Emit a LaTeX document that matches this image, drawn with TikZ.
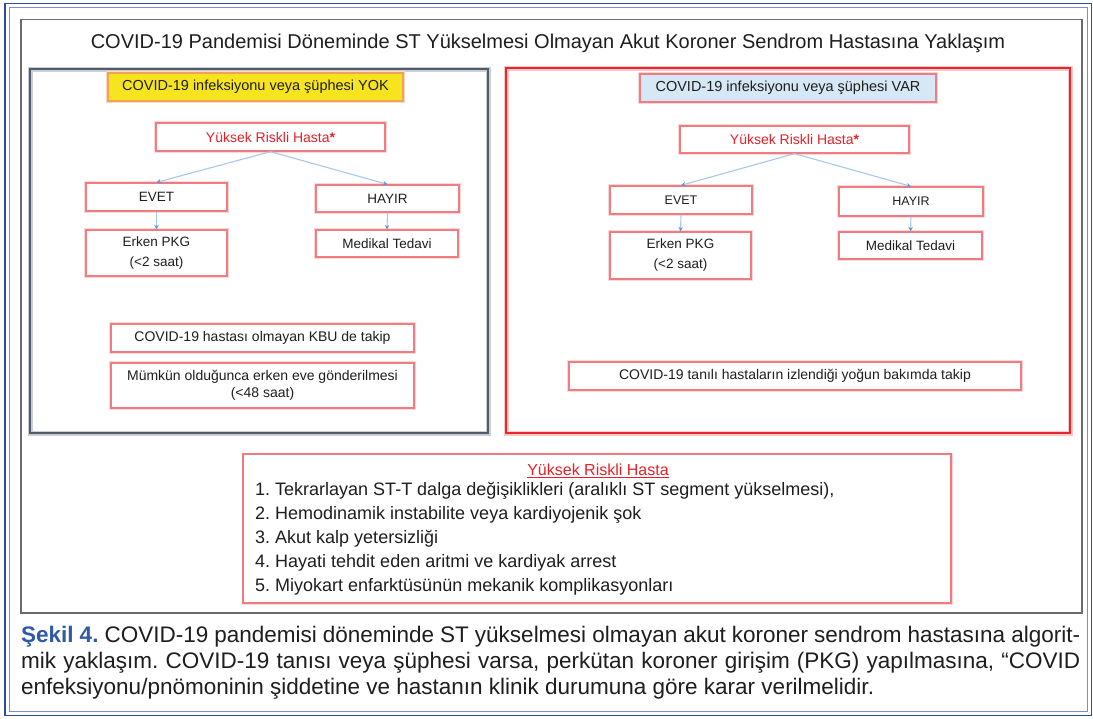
\documentclass[tikz,border=0pt]{standalone}
\usepackage{fontspec}
\setmainfont{Liberation Sans}
\usetikzlibrary{arrows.meta}
\frenchspacing
\definecolor{frameblue}{HTML}{2F4C9C}
\definecolor{frameblue2}{HTML}{7A90C6}
\definecolor{framegray}{HTML}{6B6B6B}
\definecolor{slate}{HTML}{505C6C}
\definecolor{bigred}{HTML}{E8262C}
\definecolor{boxred}{HTML}{F07C82}
\definecolor{txt}{HTML}{1E1E1E}
\definecolor{redtxt}{HTML}{E8202A}
\definecolor{yel}{HTML}{F6E51E}
\definecolor{yelborder}{HTML}{F2A05C}
\definecolor{lblue}{HTML}{D6E7F5}
\definecolor{arrowline}{HTML}{A8C8EA}
\definecolor{arrowhead}{HTML}{5B9BD5}
\definecolor{capblue}{HTML}{2E5AA8}
\begin{document}
\frenchspacing
\begin{tikzpicture}[x=1pt,y=-1pt,
  sbox/.style={draw=boxred, line width=1.3pt, preaction={draw=boxred!30, line width=3.4pt},
    fill=white, inner sep=0pt, align=center, text=txt, font=\fontsize{13.5}{16}\selectfont},
  hdbox/.style={sbox, font=\fontsize{14.5}{17}\selectfont},
  conn/.style={draw=arrowline, line width=1.1pt, -{Stealth[length=4.5pt,width=4.5pt,color=arrowhead]}},
  listline/.style={anchor=west, inner sep=0pt, text=txt, font=\fontsize{18}{21}\selectfont},
  capline/.style={anchor=base west, inner sep=0pt, text=txt, font=\fontsize{22.5}{26}\selectfont}
]
\useasboundingbox (0,0) rectangle (1093,718);
\fill[white] (0,0) rectangle (1093,718);
% outer blue double frame
\draw[frameblue, line width=1.8pt] (5,3.5) rectangle (1091.5,715.5);
\draw[frameblue2, line width=0.9pt] (9,7.5) rectangle (1087.5,711.5);
% gray frame
\draw[framegray, line width=1.2pt] (21,19.5) rectangle (1082,613);
% title
\node[inner sep=0pt, text=txt, font=\fontsize{20}{24}\selectfont] (title) at (548,43)
  {COVID-19 Pandemisi Döneminde ST Yükselmesi Olmayan Akut Koroner Sendrom Hastasına Yaklaşım};
% big boxes
\draw[slate, line width=2.4pt, preaction={draw=slate!30, line width=5pt}] (30,69) rectangle (488,433);
\draw[bigred, line width=2.4pt, preaction={draw=bigred!25, line width=5pt}] (506,68) rectangle (1070,433);

% ---- left panel ----
\node[hdbox, fill=yel, draw=yelborder, preaction={draw=yelborder!40, line width=3.4pt}, minimum width=295pt, minimum height=28pt] (yok) at (255.5,87)
  {COVID-19 infeksiyonu veya şüphesi YOK};
\node[sbox, font=\fontsize{14}{17}\selectfont, minimum width=229pt, minimum height=28pt] (yukL) at (270.5,137)
  {\textcolor{redtxt}{Yüksek Riskli Hasta\textbf{*}}};
\node[sbox, minimum width=141pt, minimum height=28pt] (evetL) at (156.5,197) {EVET};
\node[sbox, minimum width=143pt, minimum height=27pt] (hayirL) at (387.5,198.5) {HAYIR};
\node[sbox, font=\fontsize{13.5}{20}\selectfont, minimum width=141pt, minimum height=46pt] (erkenL) at (156.5,253)
  {Erken PKG\\(<2 saat)};
\node[sbox, minimum width=142pt, minimum height=27pt] (medL) at (387,243.5) {Medikal Tedavi};
\node[sbox, font=\fontsize{14}{17}\selectfont, minimum width=303pt, minimum height=28pt] (kbu) at (262.5,338)
  {COVID-19 hastası olmayan KBU de takip};
\node[sbox, font=\fontsize{14}{17}\selectfont, minimum width=303pt, minimum height=45pt] (mumkun) at (262.5,385.5)
  {Mümkün olduğunca erken eve gönderilmesi\\(<48 saat)};
\draw[conn] (yukL.south) -- (evetL.north);
\draw[conn] (yukL.south) -- (hayirL.north);
\draw[conn] (evetL.south) -- (erkenL.north);
\draw[conn] (hayirL.south) -- (medL.north);

% ---- right panel ----
\node[hdbox, fill=lblue, minimum width=296pt, minimum height=28pt] (var) at (788,88)
  {COVID-19 infeksiyonu veya şüphesi VAR};
\node[sbox, font=\fontsize{14}{17}\selectfont, minimum width=229pt, minimum height=27pt] (yukR) at (794.5,139.5)
  {\textcolor{redtxt}{Yüksek Riskli Hasta\textbf{*}}};
\node[sbox, font=\fontsize{12.5}{15}\selectfont, minimum width=142pt, minimum height=28pt] (evetR) at (681,200) {EVET};
\node[sbox, font=\fontsize{12.5}{15}\selectfont, minimum width=144pt, minimum height=29pt] (hayirR) at (911,201.5) {HAYIR};
\node[sbox, font=\fontsize{13.5}{20}\selectfont, minimum width=141pt, minimum height=47pt] (erkenR) at (680.5,255.5)
  {Erken PKG\\(<2 saat)};
\node[sbox, minimum width=143pt, minimum height=27pt] (medR) at (910.5,245.5) {Medikal Tedavi};
\node[sbox, font=\fontsize{14}{17}\selectfont, minimum width=452pt, minimum height=28pt] (tanili) at (795,376)
  {COVID-19 tanılı hastaların izlendiği yoğun bakımda takip};
\draw[conn] (yukR.south) -- (evetR.north);
\draw[conn] (yukR.south) -- (hayirR.north);
\draw[conn] (evetR.south) -- (erkenR.north);
\draw[conn] (hayirR.south) -- (medR.north);

% ---- bottom list box ----
\node[draw=boxred, line width=1.2pt, preaction={draw=boxred!30, line width=3pt}, fill=white,
  minimum width=708pt, minimum height=149pt, inner sep=0pt] (list) at (597,528.5) {};
\node[inner sep=0pt, text=redtxt, font=\fontsize{16}{19}\selectfont] (lhead) at (598,471) {\underline{Yüksek Riskli Hasta}};
\node[listline] (l1) at (255,491) {1. Tekrarlayan ST-T dalga değişiklikleri (aralıklı ST segment yükselmesi),};
\node[listline] (l2) at (255,515) {2. Hemodinamik instabilite veya kardiyojenik şok};
\node[listline] (l3) at (255,539) {3. Akut kalp yetersizliği};
\node[listline] (l4) at (255,563) {4. Hayati tehdit eden aritmi ve kardiyak arrest};
\node[listline] (l5) at (255,587) {5. Miyokart enfarktüsünün mekanik komplikasyonları};

% ---- caption ----
\node[capline] (cap1) at (21,642) {\makebox[1059pt][s]{\textbf{\textcolor{capblue}{Şekil 4.}} COVID-19 pandemisi döneminde ST yükselmesi olmayan akut koroner sendrom hastasına algorit-}};
\node[capline] (cap2) at (21,668) {\makebox[1059pt][s]{mik yaklaşım. COVID-19 tanısı veya şüphesi varsa, perkütan koroner girişim (PKG) yapılmasına, “COVID}};
\node[capline] (cap3) at (21,694) {enfeksiyonu/pnömoninin şiddetine ve hastanın klinik durumuna göre karar verilmelidir.};
\end{tikzpicture}
\end{document}
